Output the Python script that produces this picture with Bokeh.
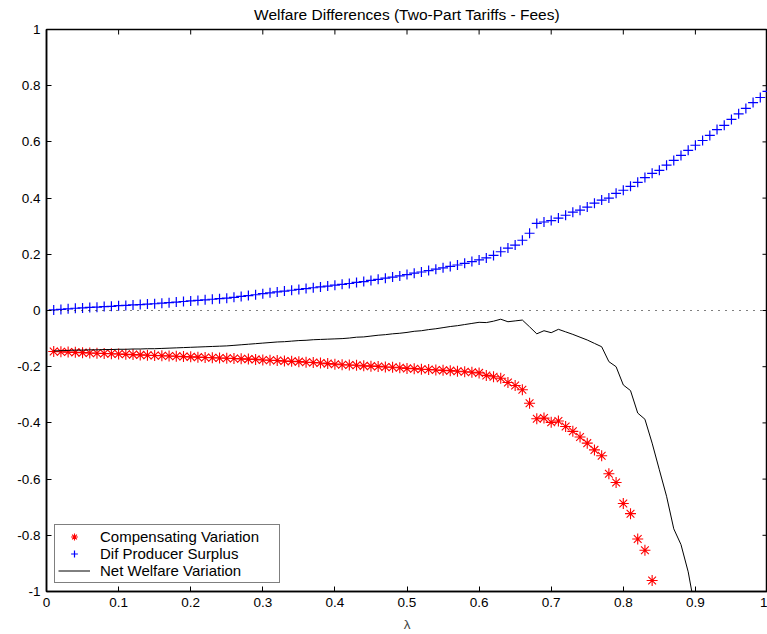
import math
from bokeh.plotting import figure
from bokeh.models import FixedTicker, LinearAxis, Range1d, Span, Legend, LegendItem, Title
from bokeh.embed import file_html
from bokeh.resources import INLINE

# lambda grid
lam = [0.01, 0.02, 0.03, 0.04, 0.05, 0.06, 0.07, 0.08, 0.09, 0.10,
       0.11, 0.12, 0.13, 0.14, 0.15, 0.16, 0.17, 0.18, 0.19, 0.20,
       0.21, 0.22, 0.23, 0.24, 0.25, 0.26, 0.27, 0.28, 0.29, 0.30,
       0.31, 0.32, 0.33, 0.34, 0.35, 0.36, 0.37, 0.38, 0.39, 0.40,
       0.41, 0.42, 0.43, 0.44, 0.45, 0.46, 0.47, 0.48, 0.49, 0.50,
       0.51, 0.52, 0.53, 0.54, 0.55, 0.56, 0.57, 0.58, 0.59, 0.60,
       0.61, 0.62, 0.63, 0.64, 0.65, 0.66, 0.67, 0.68, 0.69, 0.70,
       0.71, 0.72, 0.73, 0.74, 0.75, 0.76, 0.77, 0.78, 0.79, 0.80,
       0.81, 0.82, 0.83, 0.84, 0.85, 0.86, 0.87, 0.88, 0.89, 0.90,
       0.91, 0.92, 0.93, 0.94, 0.95, 0.96, 0.97, 0.98, 0.99, 1.00]

dif_producer_surplus = [
    0.002, 0.004, 0.006, 0.008, 0.009, 0.011, 0.012, 0.014, 0.015, 0.017,
    0.018, 0.020, 0.021, 0.023, 0.024, 0.026, 0.028, 0.030, 0.032, 0.034,
    0.036, 0.038, 0.040, 0.042, 0.044, 0.047, 0.050, 0.053, 0.056, 0.060,
    0.063, 0.066, 0.069, 0.072, 0.075, 0.078, 0.081, 0.084, 0.087, 0.090,
    0.093, 0.096, 0.100, 0.103, 0.107, 0.111, 0.115, 0.119, 0.123, 0.128,
    0.133, 0.137, 0.142, 0.147, 0.152, 0.157, 0.162, 0.168, 0.174, 0.180,
    0.187, 0.196, 0.209, 0.222, 0.233, 0.250, 0.275, 0.310, 0.315, 0.320,
    0.329, 0.339, 0.350, 0.357, 0.368, 0.382, 0.393, 0.400, 0.417, 0.428,
    0.442, 0.456, 0.473, 0.488, 0.499, 0.517, 0.534, 0.552, 0.570, 0.588,
    0.605, 0.623, 0.644, 0.659, 0.680, 0.700, 0.719, 0.740, 0.758, 0.780]

# compensating variation (visible part, lambda 0.01 .. 0.84)
compensating_variation = [
    -0.146, -0.147, -0.148, -0.149, -0.150, -0.151, -0.152, -0.153, -0.154, -0.155,
    -0.156, -0.157, -0.158, -0.159, -0.160, -0.161, -0.162, -0.163, -0.164, -0.165,
    -0.166, -0.167, -0.168, -0.169, -0.170, -0.171, -0.172, -0.173, -0.174, -0.176,
    -0.177, -0.178, -0.180, -0.181, -0.182, -0.184, -0.185, -0.187, -0.189, -0.191,
    -0.193, -0.194, -0.195, -0.197, -0.198, -0.199, -0.201, -0.202, -0.204, -0.206,
    -0.207, -0.209, -0.210, -0.212, -0.213, -0.214, -0.216, -0.218, -0.220, -0.222,
    -0.231, -0.236, -0.241, -0.256, -0.267, -0.282, -0.330, -0.385, -0.383, -0.398,
    -0.393, -0.413, -0.430, -0.450, -0.472, -0.496, -0.517, -0.581, -0.612, -0.687,
    -0.723, -0.813, -0.853, -0.961]

# net welfare variation (lambda 0.01 .. 0.90)
net_welfare_variation = [
    -0.144, -0.143, -0.142, -0.141, -0.141, -0.140, -0.140, -0.139, -0.139, -0.138,
    -0.138, -0.137, -0.137, -0.136, -0.136, -0.135, -0.134, -0.133, -0.132, -0.131,
    -0.130, -0.129, -0.128, -0.127, -0.126, -0.124, -0.122, -0.120, -0.118, -0.116,
    -0.114, -0.112, -0.111, -0.109, -0.107, -0.106, -0.104, -0.103, -0.102, -0.101,
    -0.100, -0.098, -0.095, -0.094, -0.091, -0.088, -0.086, -0.083, -0.081, -0.078,
    -0.074, -0.072, -0.068, -0.065, -0.061, -0.057, -0.054, -0.050, -0.046, -0.042,
    -0.043, -0.038, -0.031, -0.040, -0.037, -0.034, -0.058, -0.083, -0.072, -0.079,
    -0.067, -0.076, -0.085, -0.095, -0.105, -0.117, -0.129, -0.182, -0.200, -0.265,
    -0.285, -0.365, -0.387, -0.472, -0.567, -0.661, -0.777, -0.833, -0.930, -1.070]

x_ticks = [0, 0.1, 0.2, 0.3, 0.4, 0.5, 0.6, 0.7, 0.8, 0.9, 1]
x_tick_labels = ["0", "0.1", "0.2", "0.3", "0.4", "0.5", "0.6", "0.7", "0.8", "0.9", "1"]
y_ticks = [-1, -0.8, -0.6, -0.4, -0.2, 0, 0.2, 0.4, 0.6, 0.8, 1]
y_tick_labels = ["-1", "-0.8", "-0.6", "-0.4", "-0.2", "0", "0.2", "0.4", "0.6", "0.8", "1"]
title_text = "Welfare Differences (Two-Part Tariffs - Fees)"

FONT = "Liberation Sans"
X_MIN, X_MAX = 0, 1
Y_MIN, Y_MAX = -1, 1

p = figure(width=767, height=634, output_backend="svg", toolbar_location=None,
           x_range=Range1d(X_MIN, X_MAX), y_range=Range1d(Y_MIN, Y_MAX),
           x_axis_location=None, y_axis_location=None,
           min_border_left=46, min_border_right=0, min_border_top=29, min_border_bottom=42)
p.title = Title(text=title_text, align="center", vertical_align="top",
                text_font=FONT, text_font_size="15.5px", text_font_style="normal",
                text_color="black", standoff=10)
p.grid.visible = False
p.outline_line_color = "black"
p.outline_line_width = 1.5
p.background_fill_color = "white"
p.border_fill_color = "white"


def make_axis(ticks, labels):
    ax = LinearAxis(ticker=FixedTicker(ticks=ticks))
    ax.major_label_overrides = {t: l for t, l in zip(ticks, labels)}
    ax.major_tick_in = 5
    ax.major_tick_out = 0
    ax.minor_tick_in = 0
    ax.minor_tick_out = 0
    ax.axis_line_color = "black"
    ax.axis_line_width = 1.5
    ax.major_tick_line_color = "black"
    ax.major_label_text_font = FONT
    ax.major_label_text_font_size = "13.5px"
    ax.major_label_text_color = "black"
    ax.major_label_standoff = 6
    return ax


xb = make_axis(x_ticks, x_tick_labels)
xb.axis_label = "λ"
xb.axis_label_text_font = FONT
xb.axis_label_text_font_size = "13.5px"
xb.axis_label_text_font_style = "normal"
xb.axis_label_standoff = 7
p.add_layout(xb, "below")

yl = make_axis(y_ticks, y_tick_labels)
p.add_layout(yl, "left")

# inward ticks on the top and right frame edges (drawn as dash markers on the frame edge)
p.scatter(x_ticks, [Y_MAX] * len(x_ticks), marker="dash", angle=math.pi / 2, size=10,
          line_color="black", line_width=1)
p.scatter([X_MAX] * len(y_ticks), y_ticks, marker="dash", size=10,
          line_color="black", line_width=1)

zero = Span(location=0, dimension="width", line_color="black", line_dash="1 6", line_width=1)
p.add_layout(zero)

n_cv = len(compensating_variation)
n_nw = len(net_welfare_variation)

r_cv = p.scatter(lam[:n_cv], compensating_variation, marker="asterisk", size=11,
                 line_color="#ff0000", line_width=1.1)
r_ps = p.scatter(lam, dif_producer_surplus, marker="cross", size=10,
                 line_color="#0000ff", line_width=1.2)
r_nw = p.line(lam[:n_nw], net_welfare_variation, line_color="black", line_width=1)

legend = Legend(items=[
    LegendItem(label="Compensating Variation", renderers=[r_cv]),
    LegendItem(label="Dif Producer Surplus", renderers=[r_ps]),
    LegendItem(label="Net Welfare Variation", renderers=[r_nw]),
], location="bottom_left")
legend.margin = 8
legend.padding = 3
legend.spacing = 0
legend.glyph_width = 32
legend.glyph_height = 17
legend.label_height = 17
legend.label_width = 176
legend.label_standoff = 10
legend.label_text_font = FONT
legend.label_text_font_size = "15px"
legend.label_text_color = "black"
legend.border_line_color = "black"
legend.border_line_width = 1.5
legend.background_fill_color = "white"
legend.background_fill_alpha = 1
p.add_layout(legend, "center")

open("out.html", "w").write(file_html(p, INLINE))
